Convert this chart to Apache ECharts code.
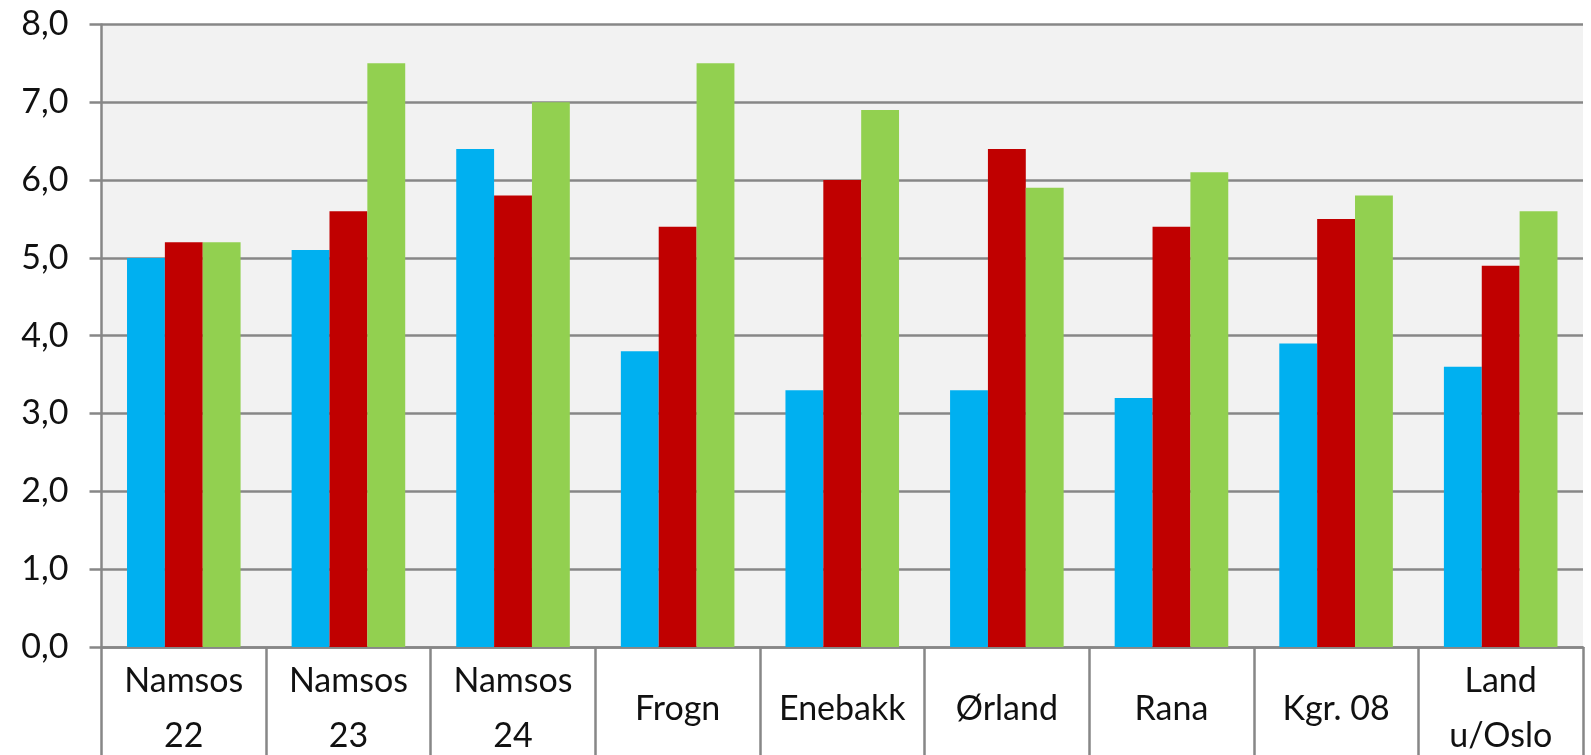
<!DOCTYPE html>
<html><head><meta charset="utf-8">
<script src="https://cdn.jsdelivr.net/npm/echarts@6/dist/echarts.min.js"></script>
<style>html,body{margin:0;padding:0;background:#fff;overflow:hidden}#c{width:1591px;height:755px}</style>
</head><body><div id="c"></div>
<script>
const categories = ['Namsos\n22','Namsos\n23','Namsos\n24','Frogn','Enebakk','Ørland','Rana','Kgr. 08','Land\nu/Oslo'];
const seriesBlue  = [5.0, 5.1, 6.4, 3.8, 3.3, 3.3, 3.2, 3.9, 3.6];
const seriesRed   = [5.2, 5.6, 5.8, 5.4, 6.0, 6.4, 5.4, 5.5, 4.9];
const seriesGreen = [5.2, 7.5, 7.0, 7.5, 6.9, 5.9, 6.1, 5.8, 5.6];
const yTicks = [0,1,2,3,4,5,6,7,8];

const chart = echarts.init(document.getElementById('c'), null, {renderer:'canvas'});
const font = 'Lato';
const mk = (name, data, color) => ({
  name, type:'bar', data, barGap:'0%', barCategoryGap:'31%',
  itemStyle:{color}
});
chart.setOption({
  animation:false,
  grid:{left:101.5, right:8, top:24.4, bottom:108, show:true, backgroundColor:'#f2f2f2', borderWidth:0,
        containLabel:false, outerBoundsMode:'none'},
  xAxis:{
    type:'category', data:categories,
    axisLine:{show:true, lineStyle:{color:'#878787', width:2.5}},
    axisTick:{show:true, interval:0, length:108, lineStyle:{color:'#878787', width:2.5}},
    axisLabel:{interval:0, margin:62, verticalAlign:'middle', lineHeight:55,
      fontFamily:font, fontSize:34, color:'#111'},
    splitLine:{show:false}
  },
  yAxis:{
    type:'value', min:yTicks[0], max:yTicks[yTicks.length-1], interval:1,
    axisLine:{show:true, lineStyle:{color:'#878787', width:2.5}},
    axisTick:{show:true, length:12, lineStyle:{color:'#878787', width:2.5}},
    axisLabel:{margin:33, fontFamily:font, fontSize:34, color:'#111',
      formatter:v=>v.toFixed(1).replace('.', ',')},
    splitLine:{show:true, lineStyle:{color:'#878787', width:2.5}}
  },
  series:[mk('A', seriesBlue, '#00b0f0'), mk('B', seriesRed, '#c00000'), mk('C', seriesGreen, '#92d050')]
});
</script></body></html>
